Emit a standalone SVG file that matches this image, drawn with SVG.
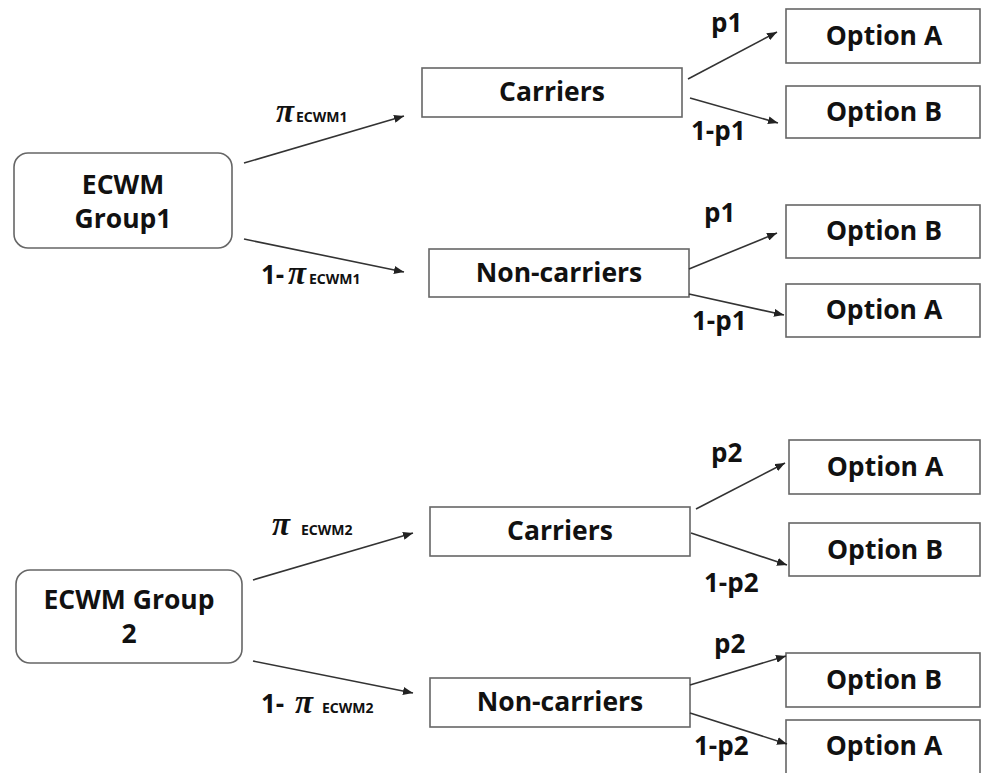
<svg xmlns="http://www.w3.org/2000/svg" width="982" height="773" viewBox="0 0 982 773">
<defs>
<marker id="ah" viewBox="0 0 10 8" refX="10" refY="4" markerWidth="10" markerHeight="8" markerUnits="userSpaceOnUse" orient="auto">
<path d="M0,0 L10,4 L0,8 Z" fill="#222"/>
</marker>
<style>
.box{fill:#fff;stroke:#666;stroke-width:1.6}
.t{font-family:"Open Sans","Noto Sans",sans-serif;font-weight:bold;font-size:26.5px;fill:#111;text-anchor:middle}
.lb{font-family:"Open Sans","Noto Sans",sans-serif;font-weight:bold;font-size:26px;fill:#111}
.pi{font-family:"Liberation Serif",serif;font-style:italic;font-weight:bold;font-size:33px;fill:#111}
.sub{font-family:"Noto Sans",sans-serif;font-weight:bold;font-size:14px;fill:#111}
.c{stroke:#333;stroke-width:1.6;fill:none;marker-end:url(#ah)}
</style>
</defs>
<rect width="982" height="773" fill="#fff"/>

<g id="group1">
<rect class="box" x="14" y="153" width="218" height="95" rx="14"/>
<text class="t" x="123" y="194">ECWM</text>
<text class="t" x="123" y="228">Group1</text>
</g>
<g id="carriers1">
<rect class="box" x="422" y="68" width="260" height="49"/>
<text class="t" x="552" y="101">Carriers</text>
</g>
<g id="noncarriers1">
<rect class="box" x="429" y="249" width="260" height="48"/>
<text class="t" x="559" y="282">Non-carriers</text>
</g>
<g id="c1-optA">
<rect class="box" x="786" y="9" width="194" height="54"/>
<text class="t" x="884" y="45">Option A</text>
</g>
<g id="c1-optB">
<rect class="box" x="786" y="86" width="194" height="52"/>
<text class="t" x="884" y="121">Option B</text>
</g>
<g id="n1-optB">
<rect class="box" x="786" y="205" width="194" height="53"/>
<text class="t" x="884" y="240">Option B</text>
</g>
<g id="n1-optA">
<rect class="box" x="786" y="284" width="194" height="53"/>
<text class="t" x="884" y="319">Option A</text>
</g>

<g id="group2">
<rect class="box" x="16" y="570" width="226" height="93" rx="14"/>
<text class="t" x="129" y="609">ECWM Group</text>
<text class="t" x="129" y="643">2</text>
</g>
<g id="carriers2">
<rect class="box" x="430" y="507" width="260" height="49"/>
<text class="t" x="560" y="540">Carriers</text>
</g>
<g id="noncarriers2">
<rect class="box" x="430" y="678" width="260" height="49"/>
<text class="t" x="560" y="711">Non-carriers</text>
</g>
<g id="c2-optA">
<rect class="box" x="789" y="440" width="191" height="54"/>
<text class="t" x="885" y="476">Option A</text>
</g>
<g id="c2-optB">
<rect class="box" x="789" y="523" width="191" height="53"/>
<text class="t" x="885" y="559">Option B</text>
</g>
<g id="n2-optB">
<rect class="box" x="786" y="653" width="194" height="54"/>
<text class="t" x="884" y="689">Option B</text>
</g>
<g id="n2-optA">
<rect class="box" x="786" y="720" width="194" height="58"/>
<text class="t" x="884" y="755">Option A</text>
</g>

<g id="connectors">
<line class="c" x1="244" y1="163" x2="404" y2="116"/>
<line class="c" x1="244" y1="239" x2="404" y2="272"/>
<line class="c" x1="688" y1="79" x2="777" y2="32"/>
<line class="c" x1="690" y1="98" x2="778" y2="123"/>
<line class="c" x1="689" y1="269" x2="777" y2="233"/>
<line class="c" x1="689" y1="294" x2="784" y2="315"/>

<line class="c" x1="253" y1="580" x2="413" y2="533"/>
<line class="c" x1="253" y1="661" x2="413" y2="693"/>
<line class="c" x1="696" y1="509" x2="785" y2="463"/>
<line class="c" x1="691" y1="533" x2="787" y2="565"/>
<line class="c" x1="690" y1="685" x2="786" y2="656"/>
<line class="c" x1="690" y1="713" x2="787" y2="744"/>
</g>

<g id="labels">
<text class="pi" x="276" y="122">π</text><text class="sub" x="296" y="122">ECWM1</text>
<text class="lb" x="261" y="284">1-</text><text class="pi" x="288" y="284">π</text><text class="sub" x="309" y="284">ECWM1</text>
<text class="lb" x="711" y="32">p1</text>
<text class="lb" x="691" y="140">1-p1</text>
<text class="lb" x="704" y="222">p1</text>
<text class="lb" x="692" y="330">1-p1</text>

<text class="pi" x="272" y="535">π</text><text class="sub" x="301" y="535">ECWM2</text>
<text class="lb" x="261" y="713">1-</text><text class="pi" x="295" y="713">π</text><text class="sub" x="322" y="713">ECWM2</text>
<text class="lb" x="711" y="462">p2</text>
<text class="lb" x="704" y="592">1-p2</text>
<text class="lb" x="714" y="653">p2</text>
<text class="lb" x="694" y="755">1-p2</text>
</g>
</svg>
